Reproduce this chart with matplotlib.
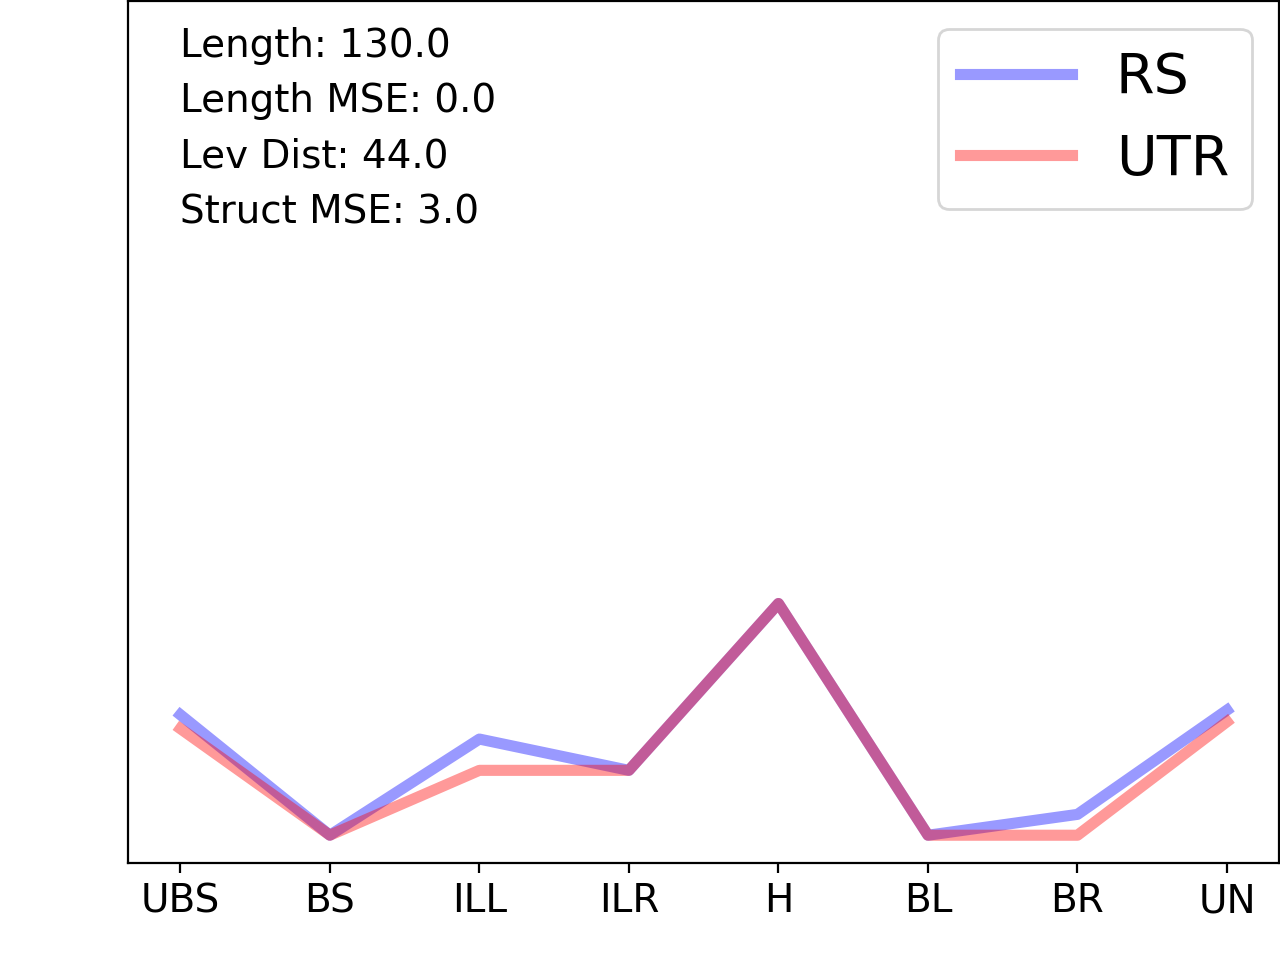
import matplotlib
matplotlib.use("Agg")
import matplotlib.pyplot as plt

labels = ["UBS", "BS", "ILL", "ILR", "H", "BL", "BR", "UN"]
rs = [5.2, 0.0, 4.15, 2.8, 10.0, 0.0, 0.9, 5.4]
utr = [4.6, 0.0, 2.8, 2.8, 10.0, 0.0, 0.0, 4.9]
stats = ["Length: 130.0", "Length MSE: 0.0", "Lev Dist: 44.0", "Struct MSE: 3.0"]

fig, ax = plt.subplots(figsize=(6.4, 4.8), dpi=200)
fig.subplots_adjust(left=0.1, right=0.9995, bottom=0.101, top=0.999)

x = list(range(len(labels)))
ax.plot(x, rs, color="blue", alpha=0.4, linewidth=4, label="RS")
ax.plot(x, utr, color="red", alpha=0.4, linewidth=4, label="UTR")

ax.set_ylim(-1.2, 36)
ax.set_xticks(x)
ax.set_xticklabels(labels, fontsize=14)
ax.set_yticks([])

# stats text in the top left corner
tr = ax.get_xaxis_transform()
for i, s in enumerate(stats):
    ax.text(0, 0.935 - i * 0.0643, s, fontsize=14, transform=tr, va="baseline")

ax.legend(fontsize=20, loc="upper right")

fig.savefig("out.png")
